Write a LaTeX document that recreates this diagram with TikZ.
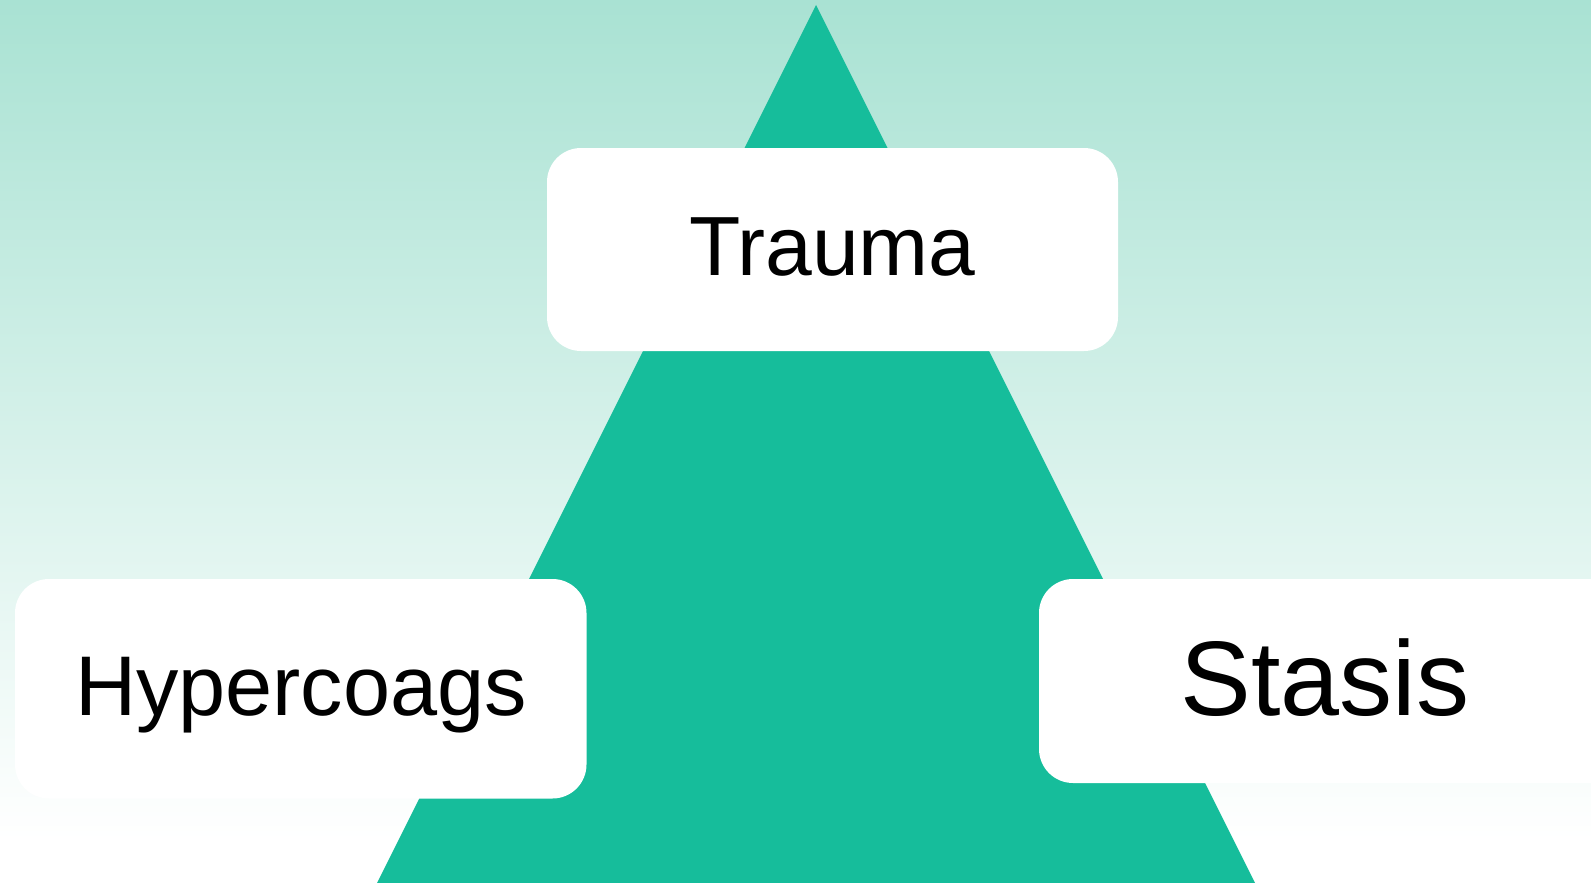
\documentclass[tikz,border=0pt]{standalone}
\usepackage{fontspec}
\setmainfont{Liberation Sans}
\definecolor{mintTop}{HTML}{A9E2D3}
\definecolor{teal}{HTML}{16BD9B}
\tikzset{
  card/.style={fill=white, draw=none, rounded corners=34pt},
  label/.style={anchor=base, inner sep=0pt, text=black},
}
\begin{document}
\begin{tikzpicture}[x=1pt,y=-1pt]
\useasboundingbox (0,0) rectangle (1591,883);
\begin{scope}
\clip (0,0) rectangle (1591,883);
% background gradient
\shade[top color=mintTop, bottom color=white] (0,0) rectangle (1591,840);
\fill[white] (0,840) rectangle (1591,883);
% triangle
\fill[teal] (816,5) -- (1256,885) -- (376,885) -- cycle;
% cards
\fill[card] (547,148) rectangle (1118,351);
\fill[card] (15,579) rectangle (586.5,798.5);
\fill[card] (1039,579) rectangle (1625,783);
\end{scope}
\node[label, font=\fontsize{84}{90}\selectfont] (trauma) at (832.5,275) {Trauma};
\node[label, font=\fontsize{84.7}{90}\selectfont] (hyper) at (301,715) {Hypercoags};
\node[label, font=\fontsize{106}{112}\selectfont] (stasis) at (1325,715) {Stasis};
\end{tikzpicture}
\end{document}
